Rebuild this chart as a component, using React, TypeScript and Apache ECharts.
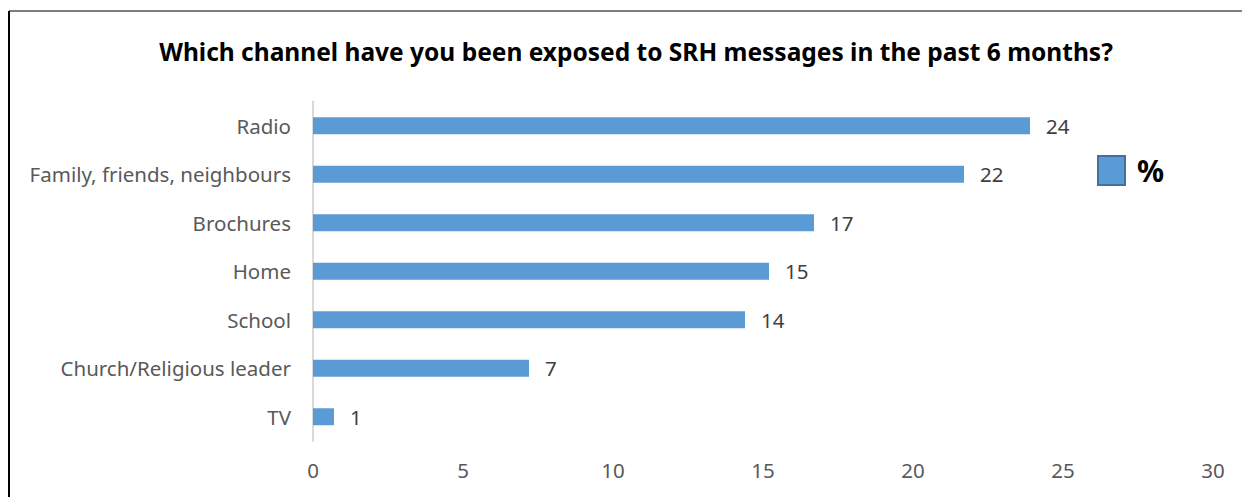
import React, { useEffect, useRef } from "react";
import * as echarts from "echarts";

const TITLE = "Which channel have you been exposed to SRH messages in the past 6 months?";
const categories = [
  "Radio",
  "Family, friends, neighbours",
  "Brochures",
  "Home",
  "School",
  "Church/Religious leader",
  "TV",
];
const values = [23.9, 21.7, 16.7, 15.2, 14.4, 7.2, 0.7];
const seriesName = "%";
const xTicks = { min: 0, max: 30, interval: 5 };

const FONT = "'Noto Sans', sans-serif";

export default function App() {
  const ref = useRef<HTMLDivElement>(null);
  useEffect(() => {
    if (!ref.current) return;
    const chart = echarts.init(ref.current, undefined, { renderer: "svg" });
    chart.setOption({
      animation: false,
      backgroundColor: "#ffffff",
      textStyle: { fontFamily: FONT },
      title: {
        text: TITLE,
        left: 631,
        textAlign: "center",
        top: 34,
        textStyle: { fontFamily: FONT, fontWeight: "bold", fontSize: 24.5, color: "#000000" },
      },
      legend: {
        left: 1097,
        top: 155,
        padding: 0,
        orient: "vertical",
        itemWidth: 27,
        itemHeight: 29,
        itemGap: 10,
        icon: "rect",
        textStyle: { fontFamily: FONT, fontWeight: "bold", fontSize: 30, color: "#000000", padding: [4, 0, 0, 7] },
        itemStyle: { borderColor: "#41719c", borderWidth: 2 },
        data: [seriesName],
      },
      grid: { left: 313, right: 29, top: 101.5, bottom: 56, containLabel: false },
      xAxis: {
        type: "value",
        min: xTicks.min,
        max: xTicks.max,
        interval: xTicks.interval,
        axisLine: { show: false },
        axisTick: { show: false },
        splitLine: { show: false },
        axisLabel: { color: "#595959", fontSize: 20.5, fontFamily: FONT, margin: 18 },
      },
      yAxis: {
        type: "category",
        inverse: true,
        data: categories,
        axisLine: { show: true, lineStyle: { color: "#d9d9d9", width: 2 } },
        axisTick: { show: false },
        axisLabel: { color: "#595959", fontSize: 20.5, fontFamily: FONT, margin: 22 },
      },
      series: [
        {
          name: seriesName,
          type: "bar",
          data: values,
          barWidth: 17,
          itemStyle: { color: "#5b9bd5" },
          label: {
            show: true,
            position: "right",
            distance: 16,
            color: "#404040",
            fontSize: 20.5,
            fontFamily: FONT,
            formatter: (p: any) => String(Math.round(p.value)),
          },
        },
      ],
      graphic: [
        {
          type: "line",
          shape: { x1: 9, y1: 11, x2: 1242, y2: 11 },
          style: { stroke: "#7f7f7f", lineWidth: 2 },
        },
        {
          type: "line",
          shape: { x1: 9, y1: 11, x2: 9, y2: 497 },
          style: { stroke: "#000000", lineWidth: 2 },
        },
      ],
    });
    return () => chart.dispose();
  }, []);
  return (
    <div
      ref={ref}
      style={{ position: "fixed", left: 0, top: 0, width: 1242, height: 497 }}
    />
  );
}
